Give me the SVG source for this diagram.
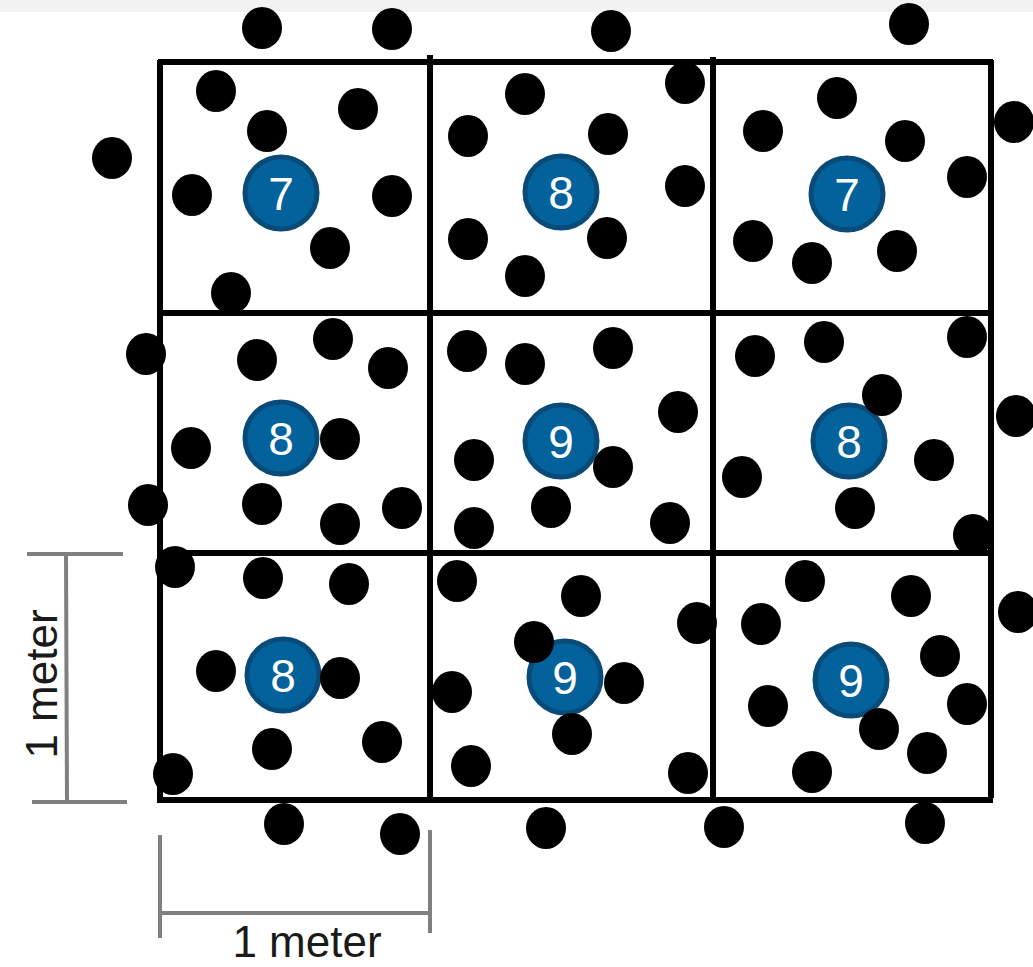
<svg xmlns="http://www.w3.org/2000/svg" width="1033" height="967" viewBox="0 0 1033 967">
<style>
.bg{fill:#ffffff}
.topbar{fill:#f2f2f2}
.grid{stroke:#000000;stroke-width:6;fill:none}
.dim{stroke:#808080;stroke-width:4;fill:none}
.dot{fill:#000000}
.cnt{fill:#03629c;stroke:#084b79;stroke-width:5}
.num{fill:#ffffff;font-family:"Liberation Sans",Arial,sans-serif;font-size:46px;text-anchor:middle}
.lbl{fill:#1a1a1a;font-family:"Liberation Sans",Arial,sans-serif;font-size:44px;text-anchor:middle}
</style>
<defs>
<ellipse id="d" rx="20" ry="21"/>
</defs>
<rect class="bg" x="0" y="0" width="1033" height="967"/>
<rect class="topbar" x="0" y="0" width="1033" height="12"/>

<g id="grid">
<line class="grid" x1="158" y1="62" x2="993" y2="62"/>
<line class="grid" x1="158" y1="313" x2="993" y2="313"/>
<line class="grid" x1="158" y1="553" x2="993" y2="553"/>
<line class="grid" x1="158" y1="800" x2="993" y2="800"/>
<line class="grid" x1="160" y1="60" x2="160" y2="803"/>
<line class="grid" x1="430" y1="55" x2="430" y2="800"/>
<line class="grid" x1="713" y1="57" x2="713" y2="800"/>
<line class="grid" x1="991" y1="60" x2="991" y2="798"/>
</g>

<g id="counts">
<g id="c11"><circle class="cnt" cx="281" cy="193" r="36"/><text class="num" x="281" y="210">7</text></g>
<g id="c12"><circle class="cnt" cx="561" cy="192" r="36"/><text class="num" x="561" y="209">8</text></g>
<g id="c13"><circle class="cnt" cx="847" cy="194" r="36"/><text class="num" x="847" y="211">7</text></g>
<g id="c21"><circle class="cnt" cx="281" cy="438" r="36"/><text class="num" x="281" y="455">8</text></g>
<g id="c22"><circle class="cnt" cx="561" cy="441" r="36"/><text class="num" x="561" y="458">9</text></g>
<g id="c23"><circle class="cnt" cx="849" cy="441" r="36"/><text class="num" x="849" y="458">8</text></g>
<g id="c31"><circle class="cnt" cx="283" cy="675" r="36"/><text class="num" x="283" y="692">8</text></g>
<g id="c32"><circle class="cnt" cx="565" cy="677" r="36"/><text class="num" x="565" y="694">9</text></g>
<g id="c33"><circle class="cnt" cx="851" cy="680" r="36"/><text class="num" x="851" y="697">9</text></g>
</g>

<g id="dots" class="dot">
<use href="#d" x="262" y="28"/>
<use href="#d" x="392" y="29"/>
<use href="#d" x="611" y="31"/>
<use href="#d" x="909" y="24"/>
<use href="#d" x="216" y="91"/>
<use href="#d" x="358" y="109"/>
<use href="#d" x="267" y="131"/>
<use href="#d" x="112" y="158"/>
<use href="#d" x="192" y="195"/>
<use href="#d" x="392" y="196"/>
<use href="#d" x="330" y="248"/>
<use href="#d" x="231" y="293"/>
<use href="#d" x="468" y="136"/>
<use href="#d" x="468" y="239"/>
<use href="#d" x="525" y="94"/>
<use href="#d" x="685" y="83"/>
<use href="#d" x="608" y="134"/>
<use href="#d" x="685" y="186"/>
<use href="#d" x="607" y="238"/>
<use href="#d" x="525" y="276"/>
<use href="#d" x="837" y="98"/>
<use href="#d" x="763" y="131"/>
<use href="#d" x="905" y="141"/>
<use href="#d" x="1014" y="122"/>
<use href="#d" x="967" y="177"/>
<use href="#d" x="753" y="241"/>
<use href="#d" x="812" y="263"/>
<use href="#d" x="897" y="251"/>
<use href="#d" x="146" y="354"/>
<use href="#d" x="257" y="360"/>
<use href="#d" x="333" y="339"/>
<use href="#d" x="388" y="368"/>
<use href="#d" x="191" y="448"/>
<use href="#d" x="340" y="439"/>
<use href="#d" x="148" y="505"/>
<use href="#d" x="262" y="504"/>
<use href="#d" x="340" y="524"/>
<use href="#d" x="402" y="508"/>
<use href="#d" x="467" y="351"/>
<use href="#d" x="474" y="460"/>
<use href="#d" x="474" y="528"/>
<use href="#d" x="525" y="364"/>
<use href="#d" x="613" y="348"/>
<use href="#d" x="678" y="412"/>
<use href="#d" x="613" y="467"/>
<use href="#d" x="551" y="507"/>
<use href="#d" x="670" y="523"/>
<use href="#d" x="755" y="356"/>
<use href="#d" x="824" y="342"/>
<use href="#d" x="967" y="337"/>
<use href="#d" x="882" y="395"/>
<use href="#d" x="1016" y="416"/>
<use href="#d" x="742" y="477"/>
<use href="#d" x="934" y="460"/>
<use href="#d" x="855" y="508"/>
<use href="#d" x="973" y="535"/>
<use href="#d" x="175" y="567"/>
<use href="#d" x="263" y="578"/>
<use href="#d" x="349" y="584"/>
<use href="#d" x="457" y="581"/>
<use href="#d" x="216" y="671"/>
<use href="#d" x="340" y="678"/>
<use href="#d" x="452" y="692"/>
<use href="#d" x="272" y="749"/>
<use href="#d" x="382" y="742"/>
<use href="#d" x="173" y="774"/>
<use href="#d" x="471" y="766"/>
<use href="#d" x="284" y="824"/>
<use href="#d" x="400" y="834"/>
<use href="#d" x="581" y="596"/>
<use href="#d" x="534" y="642"/>
<use href="#d" x="697" y="623"/>
<use href="#d" x="624" y="683"/>
<use href="#d" x="572" y="734"/>
<use href="#d" x="688" y="773"/>
<use href="#d" x="805" y="581"/>
<use href="#d" x="911" y="596"/>
<use href="#d" x="761" y="624"/>
<use href="#d" x="1018" y="612"/>
<use href="#d" x="940" y="656"/>
<use href="#d" x="768" y="706"/>
<use href="#d" x="967" y="704"/>
<use href="#d" x="879" y="729"/>
<use href="#d" x="927" y="753"/>
<use href="#d" x="812" y="772"/>
<use href="#d" x="546" y="828"/>
<use href="#d" x="724" y="827"/>
<use href="#d" x="925" y="823"/>
</g>

<g id="dim-vertical">
<line class="dim" x1="27" y1="554" x2="123" y2="554"/>
<line class="dim" x1="66" y1="554" x2="67" y2="803"/>
<line class="dim" x1="32" y1="802" x2="127" y2="802"/>
<text class="lbl" transform="translate(57,684) rotate(-90)" x="0" y="0">1 meter</text>
</g>

<g id="dim-horizontal">
<line class="dim" x1="160" y1="835" x2="160" y2="938"/>
<line class="dim" x1="430" y1="830" x2="430" y2="933"/>
<line class="dim" x1="160" y1="913" x2="430" y2="913"/>
<text class="lbl" x="307" y="957">1 meter</text>
</g>
</svg>
